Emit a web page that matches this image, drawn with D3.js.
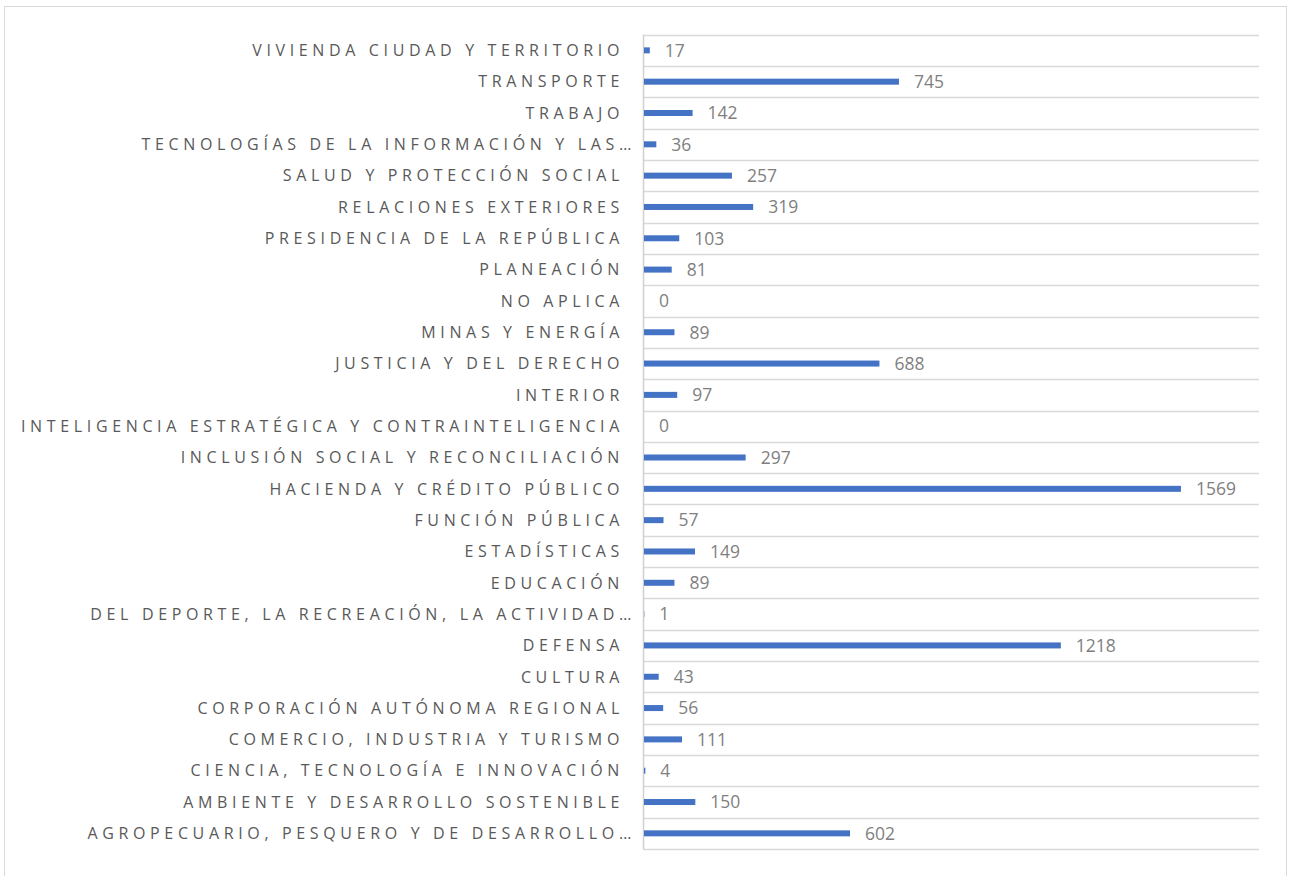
<!DOCTYPE html>
<style>
  body { margin: 0; background: white; }
  text { font-family: "Open Sans", sans-serif; }
</style>
<body>
</body>
<script src="https://cdn.jsdelivr.net/npm/d3@7"></script>
<script>
  // sectors, top to bottom as drawn
  const sectors = [
    'VIVIENDA CIUDAD Y TERRITORIO',
    'TRANSPORTE',
    'TRABAJO',
    'TECNOLOGÍAS DE LA INFORMACIÓN Y LAS…',
    'SALUD Y PROTECCIÓN SOCIAL',
    'RELACIONES EXTERIORES',
    'PRESIDENCIA DE LA REPÚBLICA',
    'PLANEACIÓN',
    'NO APLICA',
    'MINAS Y ENERGÍA',
    'JUSTICIA Y DEL DERECHO',
    'INTERIOR',
    'INTELIGENCIA ESTRATÉGICA Y CONTRAINTELIGENCIA',
    'INCLUSIÓN SOCIAL Y RECONCILIACIÓN',
    'HACIENDA Y CRÉDITO PÚBLICO',
    'FUNCIÓN PÚBLICA',
    'ESTADÍSTICAS',
    'EDUCACIÓN',
    'DEL DEPORTE, LA RECREACIÓN, LA ACTIVIDAD…',
    'DEFENSA',
    'CULTURA',
    'CORPORACIÓN AUTÓNOMA REGIONAL',
    'COMERCIO, INDUSTRIA Y TURISMO',
    'CIENCIA, TECNOLOGÍA E INNOVACIÓN',
    'AMBIENTE Y DESARROLLO SOSTENIBLE',
    'AGROPECUARIO, PESQUERO Y DE DESARROLLO…'
  ];
  const counts = [17, 745, 142, 36, 257, 319, 103, 81, 0, 89, 688, 97, 0,
                  297, 1569, 57, 149, 89, 1, 1218, 43, 56, 111, 4, 150, 602];
  const xMax = 1800;

  const W = 1289, H = 876;
  const l = 643, r = 1259, t = 34.7, b = 849;

  const svg = d3.select('body').append('svg')
    .attr('width', W)
    .attr('height', H);

  // outer chart border
  svg.append('rect')
    .attr('x', 4.5).attr('y', 6.5)
    .attr('width', 1282).attr('height', 880)
    .attr('fill', 'none')
    .attr('stroke', '#d9d9d9');

  const x = d3.scaleLinear().domain([0, xMax]).range([l, r]);
  const y = d3.scaleBand().domain(sectors).range([t, b]);

  // category separators
  svg.append('g')
    .selectAll('line')
    .data(d3.range(sectors.length + 1))
    .join('line')
      .attr('x1', l).attr('x2', r)
      .attr('y1', i => Math.round(t + i * y.step()) + 0.5)
      .attr('y2', i => Math.round(t + i * y.step()) + 0.5)
      .attr('stroke', '#d9d9d9')
      .attr('stroke-width', 1.5);

  svg.append('line')
    .attr('x1', l + 0.5).attr('x2', l + 0.5)
    .attr('y1', t).attr('y2', b)
    .attr('stroke', '#d0d0d0')
    .attr('stroke-width', 1.5);

  const barH = 6;
  svg.append('g')
    .selectAll('rect')
    .data(counts)
    .join('rect')
      .attr('x', x(0) + 1)
      .attr('y', (d, i) => y(sectors[i]) + y.bandwidth() / 2 - barH / 2)
      .attr('width', d => x(d) - x(0))
      .attr('height', barH)
      .attr('fill', '#4472c4');

  svg.append('g')
    .selectAll('text')
    .data(counts)
    .join('text')
      .attr('x', d => x(d) + 16)
      .attr('y', (d, i) => y(sectors[i]) + y.bandwidth() / 2)
      .attr('dy', '0.36em')
      .attr('font-size', 17.5)
      .attr('fill', '#7f7f7f')
      .text(d => d);

  // truncated names run a little past the others, like the original
  svg.append('g')
    .selectAll('text')
    .data(sectors)
    .join('text')
      .attr('x', d => d.endsWith('…') ? 636 : 624)
      .attr('y', d => y(d) + y.bandwidth() / 2)
      .attr('dy', '0.36em')
      .attr('text-anchor', 'end')
      .attr('font-size', 16)
      .attr('letter-spacing', '4.65px')
      .attr('fill', '#595959')
      .text(d => d);
</script>
